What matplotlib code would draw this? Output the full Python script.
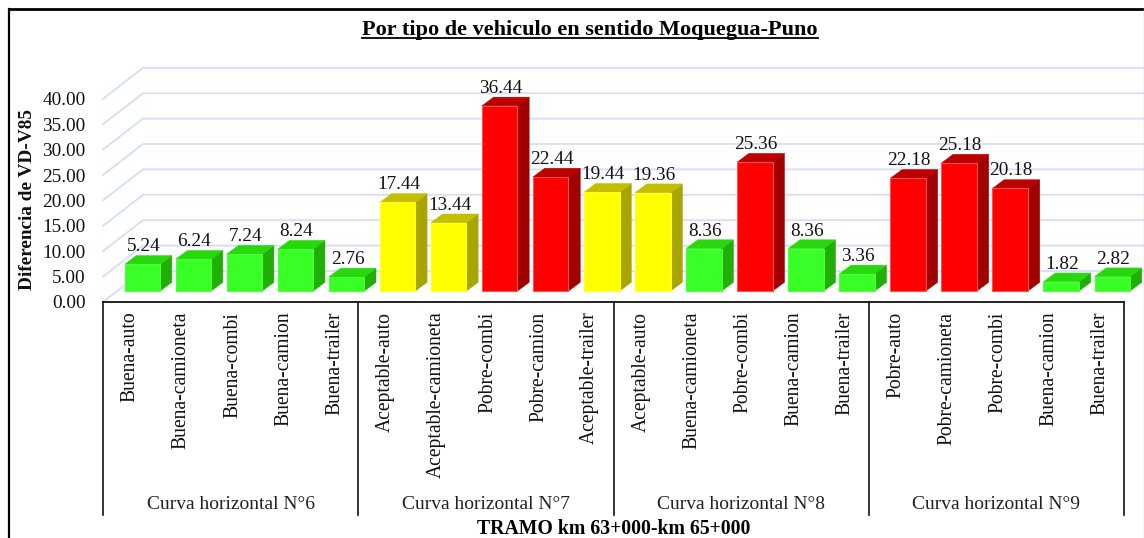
import matplotlib
matplotlib.use("Agg")
import matplotlib.pyplot as plt
from matplotlib.lines import Line2D
from matplotlib.patches import Polygon, Rectangle
from matplotlib.transforms import ScaledTranslation

plt.rcParams['font.family'] = ['Liberation Serif', 'DejaVu Serif']

# ---- data ----
title = "Por tipo de vehiculo en sentido Moquegua-Puno"
ylabel = "Diferencia de VD-V85"
xlabel = "TRAMO km 63+000-km 65+000"
groups = ["Curva horizontal N°6", "Curva horizontal N°7", "Curva horizontal N°8", "Curva horizontal N°9"]
categories = [
    "Buena-auto", "Buena-camioneta", "Buena-combi", "Buena-camion", "Buena-trailer",
    "Aceptable-auto", "Aceptable-camioneta", "Pobre-combi", "Pobre-camion", "Aceptable-trailer",
    "Aceptable-auto", "Buena-camioneta", "Pobre-combi", "Buena-camion", "Buena-trailer",
    "Pobre-auto", "Pobre-camioneta", "Pobre-combi", "Buena-camion", "Buena-trailer",
]
values = [5.24, 6.24, 7.24, 8.24, 2.76,
          17.44, 13.44, 36.44, 22.44, 19.44,
          19.36, 8.36, 25.36, 8.36, 3.36,
          22.18, 25.18, 20.18, 1.82, 2.82]
yticks = [0, 5, 10, 15, 20, 25, 30, 35, 40]

# ---- styles ----
W, H = 1144, 538
PX_Y = 5.08          # pixels per value unit
PX_X = 51.05         # pixels per category
FRONT_L, FRONT_Y0 = 103, 302
BACK_L, BACK_Y0 = 143, 271
BAR_L0, BAR_Y0 = 124.6, 291
BAR_W = 35.5
DEPTH_X, DEPTH_Y = 11.7, 8.7
GRID = "#D3DFF5"
STYLE = {
    "Buena": ("#39FF27", "#26D80C", "#20AE07", "#4CFF3C"),
    "Aceptable": ("#FFFF00", "#C4BE00", "#A8A400", "#FFFF30"),
    "Pobre": ("#FF0000", "#BC0000", "#A00000", "#FF5050"),
}

fig = plt.figure(figsize=(W / 100, H / 100), dpi=100, facecolor="white")


def axes_px(x0, x1, y_top, y_bot):
    return fig.add_axes([x0 / W, 1 - y_bot / H, (x1 - x0) / W, (y_bot - y_top) / H])


def line_px(xs, ys, **kw):
    fig.add_artist(Line2D([x / W for x in xs], [1 - y / H for y in ys], **kw))


# front plane axes: carries value ticks and category ticks
ax_f = axes_px(FRONT_L, FRONT_L + 20 * PX_X, FRONT_Y0 - 40 * PX_Y, FRONT_Y0)
ax_f.set_xlim(-0.5, 19.5)
ax_f.set_ylim(0, 40)
ax_f.patch.set_alpha(0)
for s in ax_f.spines.values():
    s.set_visible(False)
ax_f.set_yticks(yticks, [f"{v:.2f}" for v in yticks], fontsize=13.9, color="#111111")
ax_f.tick_params(axis="y", length=0, pad=12.4)
ax_f.set_xticks(range(len(categories)), categories, rotation=90, fontsize=14.1, color="#111111", va="top", ha="center")
ax_f.tick_params(axis="x", length=0, pad=7)
shift = ScaledTranslation(1.8 / 100, 0, fig.dpi_scale_trans)
for lab in ax_f.get_xticklabels():
    lab.set_transform(lab.get_transform() + shift)

# bar plane axes
bar_center0 = BAR_L0 + BAR_W / 2
ax = axes_px(bar_center0 - PX_X / 2, bar_center0 + 19.5 * PX_X, BAR_Y0 - 40 * PX_Y, BAR_Y0)
ax.set_xlim(-0.5, 19.5)
ax.set_ylim(0, 40)
ax.axis("off")
ax.set_zorder(ax_f.get_zorder() - 1)


def data_x(px):
    return (px - bar_center0) / PX_X


def data_y(y0_px, v):
    return v + (BAR_Y0 - y0_px) / PX_Y


# walls
for v in yticks:
    ax.plot([data_x(FRONT_L), data_x(BACK_L), data_x(W - 1)],
            [data_y(FRONT_Y0, v), data_y(BACK_Y0, v), data_y(BACK_Y0, v)],
            color=GRID, lw=1.3, clip_on=False, zorder=1, solid_joinstyle="miter")

# bars
bw = BAR_W / PX_X
dx = DEPTH_X / PX_X
dy = DEPTH_Y / PX_Y
for i, (cat, val) in enumerate(zip(categories, values)):
    front, top, side, edge = STYLE[cat.split("-")[0]]
    l, r = i - bw / 2, i + bw / 2
    ax.add_patch(Polygon([(r, 0), (r + dx, dy), (r + dx, val + dy), (r, val)],
                         fc=side, ec=side, lw=0.4, clip_on=False, zorder=3))
    ax.add_patch(Polygon([(l, val), (r, val), (r + dx, val + dy), (l + dx, val + dy)],
                         fc=top, ec=top, lw=0.4, clip_on=False, zorder=3))
    ax.add_patch(Rectangle((l, 0), bw, val, fc=front, ec=edge, lw=0.8, clip_on=False, zorder=4))
    ax.text(i + 0.02, val + 17.5 / PX_Y, f"{val:.2f}", ha="center", va="center",
            fontsize=13.9, color="#111111", zorder=6, clip_on=False)

# category table lines
TABLE_BOT = 515
line_px([FRONT_L, FRONT_L + 20 * PX_X], [FRONT_Y0, FRONT_Y0], color="#111111", lw=1.3)
for g in range(len(groups) + 1):
    x = FRONT_L + g * 5 * PX_X
    line_px([x, x], [FRONT_Y0, TABLE_BOT], color="#111111", lw=1.2)
for g, name in enumerate(groups):
    x = FRONT_L + (g + 0.5) * 5 * PX_X
    fig.text(x / W, 1 - 504.5 / H, name, ha="center", va="center", fontsize=14, color="#222222")

# frame
line_px([9, 9], [9, H], color="black", lw=1.6)
line_px([9, W - 1], [9, 9], color="black", lw=2.0)
line_px([W - 0.5, W - 0.5], [9, H], color="#D0D0D0", lw=1.0)

# titles
t = fig.text(590 / W, 1 - 29.5 / H, title, ha="center", va="center", fontsize=16, fontweight="bold", color="black")
fig.canvas.draw()
bb = t.get_window_extent()
line_px([bb.x0, bb.x1], [38, 38], color="black", lw=1.3)
fig.text(28 / W, 1 - 199.5 / H, ylabel, rotation=90, ha="center", va="center", fontsize=13.9, fontweight="bold", color="#111111")
fig.text(613.5 / W, 1 - 529 / H, xlabel, ha="center", va="center", fontsize=14.2, fontweight="bold", color="black")

fig.savefig("out.png", dpi=100)
